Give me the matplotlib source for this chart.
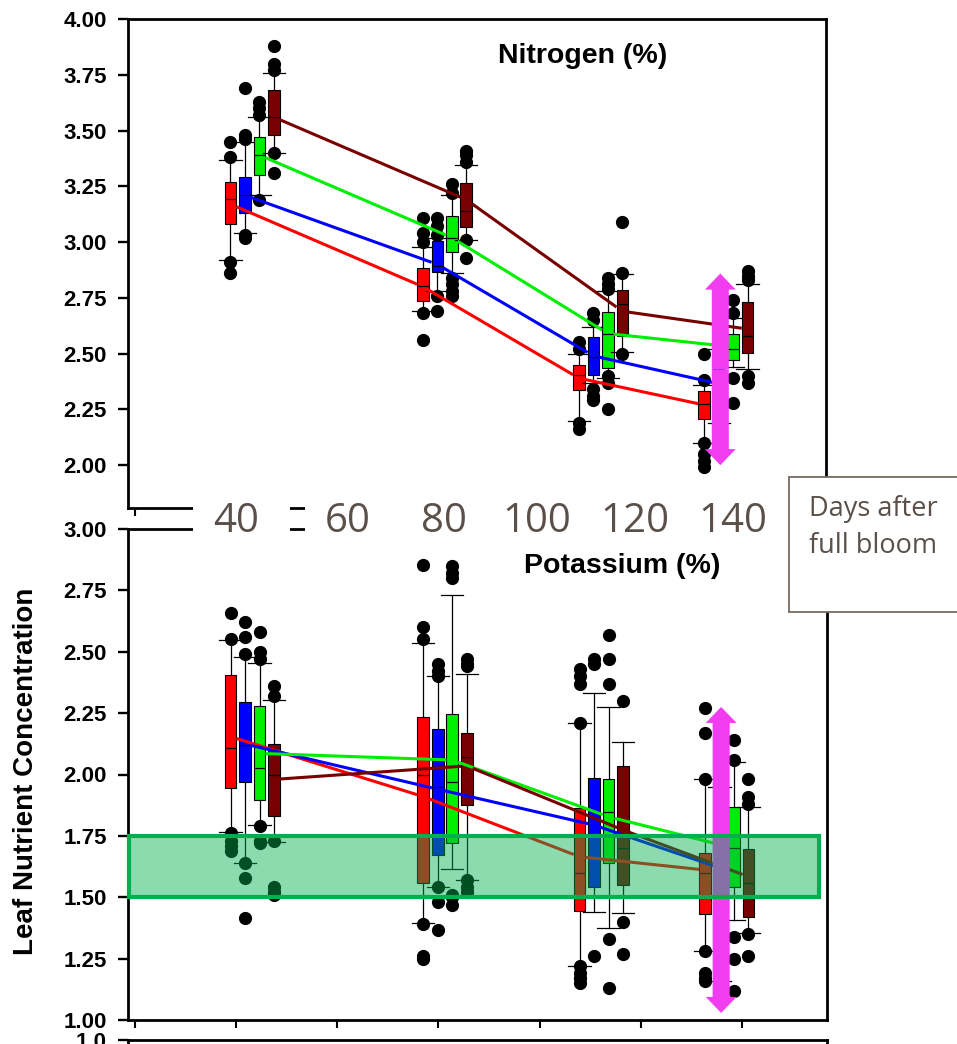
import matplotlib
matplotlib.use('Agg')
import matplotlib.pyplot as plt
from matplotlib.patches import Rectangle, FancyArrow

W, H = 957, 1044

plt.rcParams['font.family'] = 'Liberation Sans'
plt.rcParams['font.weight'] = 'bold'

# ---- data -------------------------------------------------------------
colors = ['#ff0000', '#0000ff', '#00ee00', '#780000']   # four treatments
days = [43.2, 81.3, 112.2, 137.0]                        # sampling dates (days after full bloom)
offsets = [-4.3, -1.43, 1.43, 4.3]                       # treatment offset within a date

# Nitrogen (%): per treatment, one (whisker lo, q1, median, q3, whisker hi) per date
n_box = [
    [(2.92, 3.08, 3.195, 3.27, 3.37), (2.69, 2.738, 2.805, 2.885, 2.98), (2.20, 2.336, 2.403, 2.447, 2.50), (2.10, 2.209, 2.276, 2.331, 2.36)],
    [(3.04, 3.13, 3.21, 3.29, 3.45), (2.78, 2.865, 2.895, 3.007, 3.02), (2.37, 2.403, 2.485, 2.574, 2.62), (2.19, 2.30, 2.37, 2.44, 2.52)],
    [(3.21, 3.30, 3.39, 3.47, 3.56), (2.86, 2.954, 3.02, 3.115, 3.21), (2.39, 2.437, 2.589, 2.686, 2.78), (2.44, 2.47, 2.522, 2.589, 2.66)],
    [(3.40, 3.48, 3.56, 3.68, 3.76), (3.011, 3.066, 3.141, 3.265, 3.345), (2.507, 2.579, 2.723, 2.783, 2.855), (2.43, 2.502, 2.577, 2.731, 2.81)],
]
n_out = [
    [[3.45, 3.38, 2.91, 2.86], [3.11, 3.04, 3.00, 2.68, 2.56], [2.55, 2.52, 2.19, 2.16], [2.50, 2.38, 2.10, 2.05, 2.02, 1.99]],
    [[3.69, 3.48, 3.46, 3.03, 3.02], [3.11, 3.07, 3.03, 2.76, 2.69], [2.68, 2.65, 2.34, 2.31, 2.29], []],
    [[3.63, 3.60, 3.57, 3.19], [3.26, 3.22, 2.84, 2.81, 2.78, 2.76], [2.84, 2.81, 2.79, 2.40, 2.37, 2.25], [2.74, 2.68, 2.39, 2.28]],
    [[3.88, 3.80, 3.77, 3.40, 3.31], [3.41, 3.39, 3.36, 3.01, 2.93], [3.09, 2.86, 2.50], [2.87, 2.85, 2.83, 2.40, 2.37]],
]
n_mean = [
    [3.17, 2.80, 2.39, 2.27],
    [3.21, 2.90, 2.49, 2.365],
    [3.39, 3.02, 2.59, 2.53],
    [3.56, 3.19, 2.69, 2.61],
]

# Potassium (%)
k_box = [
    [(1.767, 1.946, 2.107, 2.405, 2.548), (1.396, 1.557, 1.998, 2.233, 2.537), (1.22, 1.444, 1.598, 1.862, 2.211), (1.282, 1.432, 1.60, 1.68, 1.98)],
    [(1.638, 1.971, 2.12, 2.297, 2.48), (1.543, 1.672, 1.95, 2.185, 2.40), (1.44, 1.543, 1.75, 1.987, 2.333), (1.16, 1.45, 1.60, 1.75, 1.95)],
    [(1.794, 1.896, 2.025, 2.28, 2.455), (1.614, 1.72, 1.97, 2.245, 2.731), (1.373, 1.638, 1.848, 1.98, 2.276), (1.407, 1.543, 1.70, 1.869, 2.05)],
    [(1.726, 1.831, 1.998, 2.123, 2.303), (1.57, 1.876, 2.07, 2.17, 2.41), (1.437, 1.55, 1.70, 2.035, 2.134), (1.353, 1.421, 1.56, 1.695, 1.869)],
]
k_out = [
    [[2.657, 2.55, 1.76, 1.73, 1.71, 1.69], [2.853, 2.60, 2.55, 1.39, 1.26, 1.25], [2.43, 2.40, 2.37, 2.21, 1.22, 1.19, 1.17, 1.15], [2.27, 2.17, 1.98, 1.28, 1.19, 1.17, 1.16]],
    [[2.62, 2.56, 2.49, 1.64, 1.58, 1.414], [2.45, 2.42, 2.40, 1.54, 1.48, 1.367], [2.47, 2.45, 1.26], []],
    [[2.58, 2.50, 2.47, 1.79, 1.73, 1.72], [2.85, 2.82, 2.80, 1.51, 1.50, 1.47], [2.57, 2.47, 2.37, 1.33, 1.13], [2.14, 2.06, 1.34, 1.25, 1.12]],
    [[2.36, 2.32, 1.73, 1.54, 1.52, 1.51], [2.47, 2.45, 2.44, 1.57, 1.54, 1.52], [2.30, 1.40, 1.27], [1.98, 1.91, 1.88, 1.35, 1.26]],
]
k_mean = [
    [2.154, 1.91, 1.665, 1.611],
    [2.124, 1.94, 1.794, 1.62],
    [2.086, 2.059, 1.828, 1.70],
    [1.98, 2.035, 1.774, 1.584],
]

overlay_days = ['40', '60', '80', '100', '120', '140']
overlay_x = [236, 348, 444, 537, 635, 733]      # pixel centres of the pasted labels

# ---- figure -----------------------------------------------------------
fig = plt.figure(figsize=(W / 100, H / 100), dpi=100)
XLIM = (18.61, 156.83)
BOX_W = 2.3
CAP_W = 4.4


def fx(px):
    return px / W


def fy(py):
    return 1 - py / H


def style(ax):
    for sp in ax.spines.values():
        sp.set_linewidth(2)
    ax.tick_params(axis='y', direction='out', length=7.2, width=1.7, pad=8, labelsize=16)
    ax.tick_params(axis='x', direction='out', length=5.8, width=1.5, labelsize=16)
    ax.set_xlim(*XLIM)
    ax.set_xticks(range(20, 141, 20))
    ax.set_xticklabels([])


def draw_panel(ax, box, out, means):
    for s in range(4):
        pos = [d + offsets[s] for d in days]
        stats = []
        for i in range(4):
            lo, q1, med, q3, hi = box[s][i]
            stats.append(dict(whislo=lo, q1=q1, med=med, q3=q3, whishi=hi, fliers=out[s][i]))
        ax.bxp(stats, positions=pos, widths=BOX_W, capwidths=CAP_W, patch_artist=True,
               manage_ticks=False, zorder=3,
               boxprops=dict(facecolor=colors[s], edgecolor='black', linewidth=0.8),
               whiskerprops=dict(color='black', linewidth=0.9),
               capprops=dict(color='black', linewidth=0.9),
               medianprops=dict(color='black', linewidth=0.9),
               flierprops=dict(marker='o', markerfacecolor='black', markeredgecolor='black',
                               markersize=8.5))
        # connecting line, running from box edge to box edge
        for i in range(3):
            x0, x1 = pos[i], pos[i + 1]
            y0, y1 = means[s][i], means[s][i + 1]
            xa, xb = x0 + BOX_W / 2, x1 - BOX_W / 2
            ya = y0 + (y1 - y0) * (xa - x0) / (x1 - x0)
            yb = y0 + (y1 - y0) * (xb - x0) / (x1 - x0)
            ax.plot([xa, xb], [ya, yb], color=colors[s], lw=2.2, zorder=4, solid_capstyle='butt')


def double_arrow(ax, x, y0, y1, head_len):
    mid = (y0 + y1) / 2
    for tip in (y0, y1):
        ax.add_patch(FancyArrow(x, mid, 0, tip - mid, width=3.37, head_width=6.1,
                                head_length=head_len, length_includes_head=True,
                                color='#f23cf0', lw=0, zorder=5))


# Nitrogen panel
ax1 = fig.add_axes([fx(128), fy(508), fx(826) - fx(128), fy(19) - fy(508)])
style(ax1)
ax1.set_ylim(1.808, 4.0)
ax1.set_yticks([2.0 + 0.25 * i for i in range(9)])
ax1.set_yticklabels(['%.2f' % (2.0 + 0.25 * i) for i in range(9)])
draw_panel(ax1, n_box, n_out, n_mean)
ax1.text(0.652, 0.910, 'Nitrogen (%)', transform=ax1.transAxes, ha='center', va='baseline',
         fontsize=20.5, fontweight='bold')
double_arrow(ax1, 135.9, 2.0, 2.859, 0.072)

# Potassium panel
ax2 = fig.add_axes([fx(128), fy(1020), fx(827) - fx(128), fy(529) - fy(1020)])
style(ax2)
ax2.set_ylim(1.0, 3.0)
ax2.set_yticks([1.0 + 0.25 * i for i in range(9)])
ax2.set_yticklabels(['%.2f' % (1.0 + 0.25 * i) for i in range(9)])
draw_panel(ax2, k_box, k_out, k_mean)
ax2.text(0.707, 0.910, 'Potassium (%)', transform=ax2.transAxes, ha='center', va='baseline',
         fontsize=20.5, fontweight='bold')
double_arrow(ax2, 135.9, 1.029, 2.275, 0.065)
ax2.add_patch(Rectangle((18.8, 1.50), 155.2 - 18.8, 0.25, facecolor=(0, 0.69, 0.31, 0.45),
                        edgecolor='#00b050', lw=3, zorder=6, clip_on=False))

# next panel, only its top edge shows
ax3 = fig.add_axes([fx(128), -0.3, fx(827) - fx(128), 0.3 + fy(1040)])
for sp in ax3.spines.values():
    sp.set_linewidth(2)
ax3.set_xlim(*XLIM)
ax3.set_ylim(0, 1.0)
ax3.set_xticks([])
ax3.set_yticks([1.0])
ax3.set_yticklabels(['1.0'])
ax3.tick_params(axis='y', direction='out', length=7.2, width=1.7, pad=8, labelsize=16)

fig.text(fx(26), fy(771), 'Leaf Nutrient Concentration', rotation=90, ha='center', va='center',
         fontsize=20, fontweight='bold')

# pasted day labels with white backgrounds
for x0, x1 in [(193, 290), (305, 792)]:
    fig.add_artist(Rectangle((fx(x0), fy(538)), fx(x1) - fx(x0), fy(490) - fy(538),
                             transform=fig.transFigure, facecolor='white', edgecolor='none', zorder=8))
for lab, px in zip(overlay_days, overlay_x):
    fig.text(fx(px), fy(532), lab, ha='center', va='baseline', fontsize=29,
             family='Open Sans', fontweight='normal', color='#5b5049', zorder=9)

fig.add_artist(Rectangle((fx(789), fy(612)), fx(970) - fx(789), fy(477) - fy(612),
                         transform=fig.transFigure, facecolor='white', edgecolor='#766a63',
                         lw=1.3, zorder=8))
fig.text(fx(809), fy(516), 'Days after', ha='left', va='baseline', fontsize=19.5,
         family='Open Sans', fontweight='normal', color='#5b5049', zorder=9)
fig.text(fx(809), fy(553), 'full bloom', ha='left', va='baseline', fontsize=19.5,
         family='Open Sans', fontweight='normal', color='#5b5049', zorder=9)

fig.savefig('out.png', dpi=100)
